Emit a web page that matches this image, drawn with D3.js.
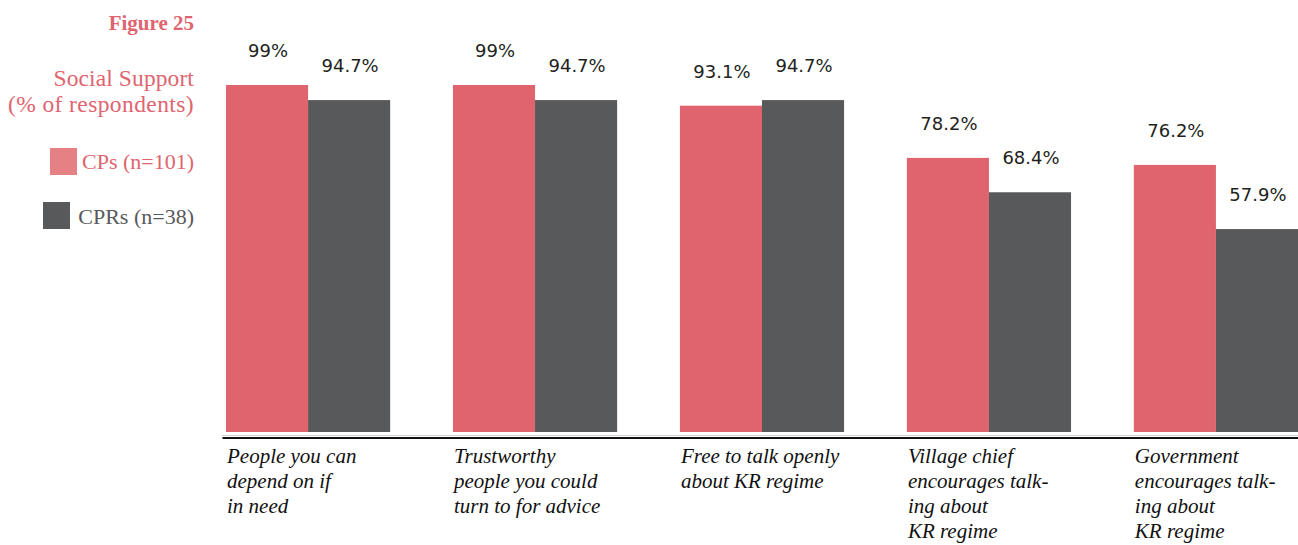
<!DOCTYPE html>
<html>
<head>
<meta charset="utf-8">
<script src="https://cdn.jsdelivr.net/npm/d3@7"></script>
<style>
  html, body { margin: 0; padding: 0; background: #ffffff; }
  svg { display: block; }
</style>
</head>
<body>
<svg id="chart" width="1298" height="545"></svg>
<script>
// ---- data ----
const categories = [
  ["People you can", "depend on if", "in need"],
  ["Trustworthy", "people you could", "turn to for advice"],
  ["Free to talk openly", "about KR regime"],
  ["Village chief", "encourages talk-", "ing about", "KR regime"],
  ["Government", "encourages talk-", "ing about", "KR regime"]
];
const seriesNames = ["CPs (n=101)", "CPRs (n=38)"];
const cpsValues  = [99, 99, 93.1, 78.2, 76.2];
const cprsValues = [94.7, 94.7, 94.7, 68.4, 57.9];
const valueLabelsCPs  = ["99%", "99%", "93.1%", "78.2%", "76.2%"];
const valueLabelsCPRs = ["94.7%", "94.7%", "94.7%", "68.4%", "57.9%"];
const figureTitle = "Figure 25";
const chartTitle = ["Social Support", "(% of respondents)"];

// ---- styles ----
const RED = "#e0646e", DARK = "#58595b", LEGEND_RED = "#e58084", TEXT_RED = "#e0646f";
const colors = [RED, DARK];

const svg = d3.select("#chart");
const keys = categories.map((c, i) => "g" + i);

const x0 = d3.scaleBand().domain(keys).range([226, 1298]).paddingInner(0.2767).paddingOuter(0).align(0);
const x1 = d3.scaleBand().domain(seriesNames).range([0, x0.bandwidth()]).padding(0);
const y = d3.scaleLinear().domain([0, 100]).range([432, 81.5]);

const rows = keys.map((k, i) => ({
  key: k,
  vals: [
    {s: seriesNames[0], v: cpsValues[i], label: valueLabelsCPs[i]},
    {s: seriesNames[1], v: cprsValues[i], label: valueLabelsCPRs[i]}
  ]
}));

const groups = svg.append("g").selectAll("g").data(rows).join("g")
  .attr("transform", d => `translate(${x0(d.key)},0)`);

groups.selectAll("rect").data(d => d.vals).join("rect")
  .attr("x", d => x1(d.s))
  .attr("y", d => y(d.v))
  .attr("width", x1.bandwidth())
  .attr("height", d => y(0) - y(d.v))
  .attr("fill", (d, i) => colors[i]);

groups.selectAll("text.val").data(d => d.vals).join("text")
  .attr("class", "val")
  .attr("x", d => x1(d.s) + x1.bandwidth() / 2 + 1)
  .attr("y", d => y(d.v) - 28)
  .attr("text-anchor", "middle")
  .attr("font-family", "DejaVu Sans, sans-serif")
  .attr("font-size", 18)
  .attr("fill", "#231f20")
  .text(d => d.label);

// axis (baseline) via d3 axis with no ticks
const axisG = svg.append("g").attr("transform", "translate(0,437.5)");
axisG.call(d3.axisBottom(d3.scaleLinear().range([222, 1298])).ticks(0).tickSizeOuter(0));
axisG.select(".domain").attr("stroke", "#111").attr("stroke-width", 2);
svg.append("line").attr("x1", 222).attr("x2", 1298).attr("y1", 435.5).attr("y2", 435.5)
  .attr("stroke", "#d0d0d0").attr("stroke-width", 1);

// category labels
const catG = svg.append("g");
rows.forEach((r, i) => {
  const t = catG.append("text")
    .attr("x", x0(r.key) + 1)
    .attr("y", 463)
    .attr("font-family", "Liberation Serif, serif")
    .attr("font-style", "italic")
    .attr("font-size", 21)
    .attr("fill", "#111");
  categories[i].forEach((line, j) => {
    t.append("tspan").attr("x", x0(r.key) + 1).attr("y", 463 + j * 25).text(line);
  });
});

// title block
const legend = svg.append("g").attr("font-family", "Liberation Serif, serif");
legend.append("text").attr("x", 194).attr("y", 30).attr("text-anchor", "end")
  .attr("font-size", 21).attr("font-weight", "bold").attr("fill", TEXT_RED).text(figureTitle);
chartTitle.forEach((t, i) => {
  legend.append("text").attr("x", 194).attr("y", 86 + i * 26).attr("text-anchor", "end")
    .attr("font-size", 23.5).attr("letter-spacing", i === 1 ? 0.4 : 0.1)
    .attr("fill", TEXT_RED).text(t);
});
const legendItems = [
  {name: seriesNames[0], sq: LEGEND_RED, tc: TEXT_RED, sx: 50, sy: 148, ty: 169},
  {name: seriesNames[1], sq: DARK, tc: DARK, sx: 43, sy: 202, ty: 224}
];
legendItems.forEach(it => {
  legend.append("rect").attr("x", it.sx).attr("y", it.sy).attr("width", 27).attr("height", 27).attr("fill", it.sq);
  legend.append("text").attr("x", 194).attr("y", it.ty).attr("text-anchor", "end")
    .attr("font-size", 22).attr("fill", it.tc).text(it.name);
});
</script>
</body>
</html>
